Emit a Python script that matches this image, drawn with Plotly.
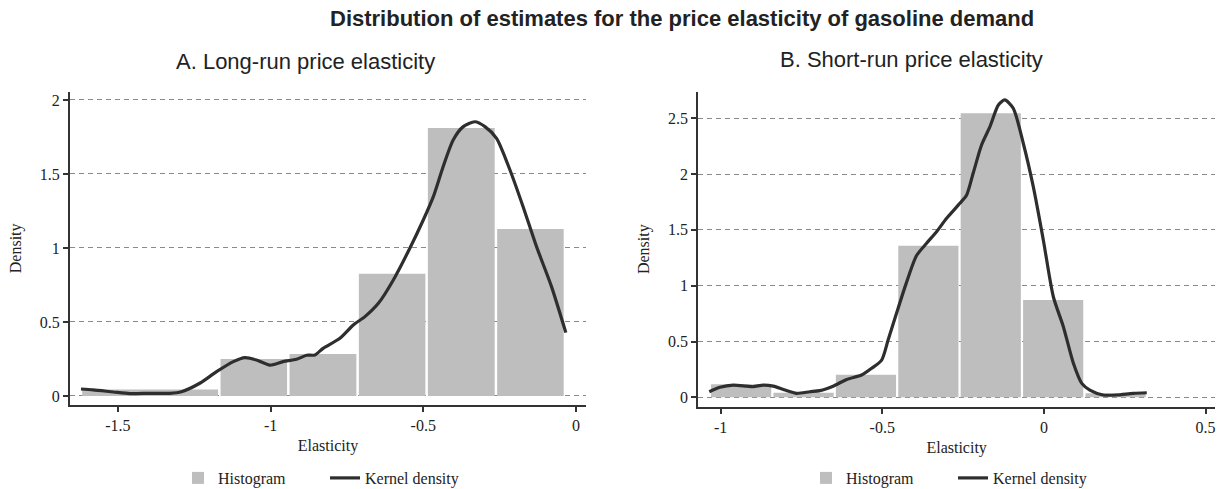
import plotly.graph_objects as go

# ---- Panel A: long-run price elasticity ----
long_bin_edges = [-1.621, -1.168, -0.942, -0.715, -0.489, -0.262, -0.036]
long_density = [0.044, 0.25, 0.284, 0.826, 1.811, 1.128]

long_kde_x = [-1.621, -1.581, -1.515, -1.461, -1.395, -1.330, -1.292, -1.232, -1.177,
              -1.122, -1.084, -1.046, -1.002, -0.959, -0.915, -0.882, -0.855, -0.828,
              -0.773, -0.729, -0.691, -0.647, -0.598, -0.544, -0.500, -0.467, -0.435,
              -0.402, -0.369, -0.331, -0.298, -0.260, -0.216, -0.173, -0.129, -0.080,
              -0.033]
long_kde_y = [0.047, 0.041, 0.027, 0.016, 0.018, 0.018, 0.029, 0.086, 0.164,
              0.232, 0.259, 0.243, 0.209, 0.232, 0.248, 0.275, 0.277, 0.322,
              0.390, 0.480, 0.536, 0.626, 0.784, 0.998, 1.189, 1.347, 1.549,
              1.730, 1.820, 1.853, 1.820, 1.741, 1.527, 1.279, 1.009, 0.739,
              0.428]

long_xticks = [-1.5, -1.0, -0.5, 0.0]
long_xtick_text = ["-1.5", "-1", "-0.5", "0"]
long_yticks = [0, 0.5, 1, 1.5, 2]
long_ytick_text = ["0", "0.5", "1", "1.5", "2"]

# ---- Panel B: short-run price elasticity ----
short_bin_edges = [-1.033, -0.840, -0.647, -0.454, -0.261, -0.068, 0.125, 0.318]
short_density = [0.117, 0.041, 0.202, 1.359, 2.545, 0.872, 0.036]

short_kde_x = [-1.035, -1.002, -0.961, -0.920, -0.899, -0.868, -0.837, -0.801, -0.765,
               -0.724, -0.693, -0.652, -0.610, -0.564, -0.533, -0.502, -0.482, -0.456,
               -0.425, -0.394, -0.363, -0.332, -0.301, -0.260, -0.239, -0.219, -0.193,
               -0.167, -0.141, -0.121, -0.095, -0.064, -0.033, -0.002, 0.029, 0.060,
               0.091, 0.117, 0.142, 0.183, 0.225, 0.276, 0.318]
short_kde_y = [0.05, 0.09, 0.11, 0.10, 0.095, 0.11, 0.10, 0.065, 0.036,
               0.05, 0.06, 0.10, 0.16, 0.20, 0.26, 0.334, 0.513, 0.753,
               1.03, 1.27, 1.38, 1.484, 1.604, 1.738, 1.813, 2.007, 2.261,
               2.425, 2.619, 2.664, 2.590, 2.276, 1.887, 1.41, 0.901, 0.633,
               0.305, 0.125, 0.065, 0.021, 0.021, 0.036, 0.041]

short_xticks = [-1.0, -0.5, 0.0, 0.5]
short_xtick_text = ["-1", "-0.5", "0", "0.5"]
short_yticks = [0, 0.5, 1, 1.5, 2, 2.5]
short_ytick_text = ["0", "0.5", "1", "1.5", "2", "2.5"]

# ---- styling ----
W, H = 1228, 489
BAR_COLOR = "#bebebe"
LINE_COLOR = "#2e2e2e"
AXIS_COLOR = "#333333"
GRID_COLOR = "#8a8a8a"
SERIF = "Liberation Serif"
SANS = "Liberation Sans"
GAP_FRAC = 0.036  # white gap between adjacent bars, as a share of one bin


def bar_geometry(edges):
    widths = [b - a for a, b in zip(edges[:-1], edges[1:])]
    unit = min(widths)
    centers = [(a + b) / 2 for a, b in zip(edges[:-1], edges[1:])]
    drawn = [w - GAP_FRAC * unit for w in widths]
    return centers, drawn


lc, lw = bar_geometry(long_bin_edges)
sc, sw = bar_geometry(short_bin_edges)

fig = go.Figure()
fig.add_trace(go.Bar(x=lc, y=long_density, width=lw, name="Histogram",
                     marker=dict(color=BAR_COLOR, line=dict(width=0)),
                     xaxis="x", yaxis="y", legend="legend"))
fig.add_trace(go.Scatter(x=long_kde_x, y=long_kde_y, mode="lines", name="Kernel density",
                         line=dict(color=LINE_COLOR, width=3.2, shape="spline", smoothing=0.7),
                         xaxis="x", yaxis="y", legend="legend"))
fig.add_trace(go.Bar(x=sc, y=short_density, width=sw, name="Histogram",
                     marker=dict(color=BAR_COLOR, line=dict(width=0)),
                     xaxis="x2", yaxis="y2", legend="legend2"))
fig.add_trace(go.Scatter(x=short_kde_x, y=short_kde_y, mode="lines", name="Kernel density",
                         line=dict(color=LINE_COLOR, width=3.2, shape="spline", smoothing=0.7),
                         xaxis="x2", yaxis="y2", legend="legend2"))

common_x = dict(showline=True, linecolor=AXIS_COLOR, linewidth=2, ticks="outside",
                ticklen=5, tickwidth=1.5, tickcolor=AXIS_COLOR, showgrid=False,
                zeroline=False, tickfont=dict(family=SERIF, size=16, color="#222"),
                title=dict(text="Elasticity", font=dict(family=SERIF, size=16, color="#222"),
                           standoff=7))
common_y = dict(showline=True, linecolor=AXIS_COLOR, linewidth=2, ticks="outside",
                ticklen=5, tickwidth=1.5, tickcolor=AXIS_COLOR, showgrid=True,
                gridcolor=GRID_COLOR, gridwidth=1, griddash="5px,4px", zeroline=False,
                tickfont=dict(family=SERIF, size=16, color="#222"),
                title=dict(text="Density", font=dict(family=SERIF, size=16, color="#222"),
                           standoff=14))

legend_common = dict(orientation="h", xanchor="left", yanchor="middle",
                     entrywidth=102, entrywidthmode="pixels",
                     font=dict(family=SERIF, size=16, color="#222"),
                     bgcolor="rgba(0,0,0,0)")

fig.update_layout(
    width=W, height=H,
    margin=dict(l=0, r=0, t=0, b=0, autoexpand=False),
    paper_bgcolor="white", plot_bgcolor="white",
    font=dict(family=SERIF, size=16, color="#222"),
    barmode="overlay",
    xaxis=dict(domain=[70 / W, 586 / W], range=[-1.657, 0.033], anchor="y",
               tickvals=long_xticks, ticktext=long_xtick_text, **common_x),
    yaxis=dict(domain=[1 - 405 / H, 1 - 91.7 / H], range=[-0.061, 2.056], anchor="x",
               tickvals=long_yticks, ticktext=long_ytick_text, **common_y),
    xaxis2=dict(domain=[698.3 / W, 1215 / W], range=[-1.069, 0.529], anchor="y2",
                tickvals=short_xticks, ticktext=short_xtick_text, **common_x),
    yaxis2=dict(domain=[1 - 406.7 / H, 1 - 91.7 / H], range=[-0.084, 2.738], anchor="x2",
                tickvals=short_yticks, ticktext=short_ytick_text, **common_y),
    legend=dict(x=178 / W, y=1 - 478 / H, **legend_common),
    legend2=dict(x=806 / W, y=1 - 478 / H, **legend_common),
    annotations=[
        dict(text="<b>Distribution of estimates for the price elasticity of gasoline demand</b>",
             x=682 / W, y=1 - 18 / H, xref="paper", yref="paper", showarrow=False,
             xanchor="center", yanchor="middle",
             font=dict(family=SANS, size=22, color="#222")),
        dict(text="A. Long-run price elasticity",
             x=305 / W, y=1 - 61 / H, xref="paper", yref="paper", showarrow=False,
             xanchor="center", yanchor="middle",
             font=dict(family=SANS, size=22, color="#222")),
        dict(text="B. Short-run price elasticity",
             x=911 / W, y=1 - 60 / H, xref="paper", yref="paper", showarrow=False,
             xanchor="center", yanchor="middle",
             font=dict(family=SANS, size=22, color="#222")),
    ],
)

fig.write_html("out.html")
